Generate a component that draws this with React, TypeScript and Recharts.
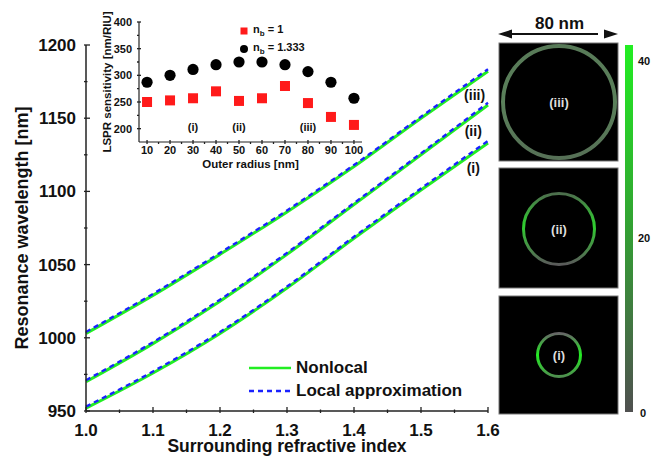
import React from "react";
import {
  LineChart,
  Line,
  XAxis,
  YAxis,
  ScatterChart,
  Scatter,
  ReferenceDot,
} from "recharts";

const FONT = '"Liberation Sans", Arial, Helvetica, sans-serif';
const AXIS = "#222";
const GREEN = "#22ee22";
const BLUE = "#1a22ff";

// main plot: resonance wavelength vs surrounding index
const refractiveIndex = [1.0, 1.1, 1.2, 1.3, 1.4, 1.5, 1.6];
const nonlocalI = [952, 976, 1003, 1034, 1068, 1101, 1133];
const localI = [953, 977, 1004, 1035, 1069, 1102, 1134.5];
const nonlocalII = [970, 996, 1025, 1057, 1091, 1125, 1159];
const localII = [971, 997, 1026, 1058, 1092, 1126, 1160.5];
const nonlocalIII = [1003, 1029, 1057, 1086, 1117, 1150, 1182];
const localIII = [1004, 1030, 1058, 1087, 1118, 1151, 1183.5];

const xMajor = [1.0, 1.1, 1.2, 1.3, 1.4, 1.5, 1.6];
const xMinor = [1.05, 1.15, 1.25, 1.35, 1.45, 1.55];
const yMajor = [950, 1000, 1050, 1100, 1150, 1200];
const yMinor = [975, 1025, 1075, 1125, 1175];

// inset: sensitivity vs outer radius
const outerRadius = [10, 20, 30, 40, 50, 60, 70, 80, 90, 100];
const sensitivityNb1 = [250, 253, 257, 270, 252, 257, 280, 248, 222, 207];
const sensitivityNb1333 = [287, 300, 311, 320, 325, 325, 320, 307, 287, 257];
const rMajor = [10, 20, 30, 40, 50, 60, 70, 80, 90, 100];
const rMinor = [15, 25, 35, 45, 55, 65, 75, 85, 95];
const sMajor = [200, 250, 300, 350, 400];
const sMinor = [225, 275, 325, 375];

const near = (list: number[], v: number) => list.some((m) => Math.abs(m - v) < 1e-6);

const makeBottomTick =
  (major: number[], len: number, minorLen: number, size: number, dy: number, fmt: (v: number) => string) =>
  (props: any) => {
    const { x, y, payload } = props;
    const major_ = near(major, payload.value);
    return (
      <g>
        <line x1={x} x2={x} y1={y} y2={y - (major_ ? len : minorLen)} stroke={AXIS} strokeWidth={1.3} />
        {major_ && (
          <text x={x} y={y + dy} textAnchor="middle" fontSize={size} fontWeight={700} fontFamily={FONT} fill="#111">
            {fmt(payload.value)}
          </text>
        )}
      </g>
    );
  };

const makeLeftTick =
  (major: number[], len: number, minorLen: number, size: number, gap: number, dy: number) =>
  (props: any) => {
    const { x, y, payload } = props;
    const major_ = near(major, payload.value);
    return (
      <g>
        <line x1={x} x2={x + (major_ ? len : minorLen)} y1={y} y2={y} stroke={AXIS} strokeWidth={1.3} />
        {major_ && (
          <text x={x - gap} y={y + dy} textAnchor="end" fontSize={size} fontWeight={700} fontFamily={FONT} fill="#111">
            {payload.value}
          </text>
        )}
      </g>
    );
  };

const MainXTick = makeBottomTick(xMajor, 6, 3.5, 17, 23, (v) => v.toFixed(1));
const MainYTick = makeLeftTick(yMajor, 6, 3.5, 17, 8, 6);
const InsetXTick = makeBottomTick(rMajor, 4, 2, 11, 10, (v) => String(v));
const InsetYTick = makeLeftTick(sMajor, 4, 2, 11, 5, 4);

const Square = (props: any) => (
  <rect x={props.cx - 5} y={props.cy - 5} width={10} height={10} fill="#ff1a1a" />
);
const Dot = (props: any) => <circle cx={props.cx} cy={props.cy} r={5.6} fill="#000" />;

const labelText = { fill: "#111", fontWeight: 700, fontFamily: FONT };

function MainLegend() {
  const row = (top: number, dashed: boolean, color: string, text: string) => (
    <div style={{ position: "absolute", left: 0, top, height: 20, display: "flex", alignItems: "center" }}>
      <svg width={44} height={6}>
        <line x1={0} x2={42} y1={3} y2={3} stroke={color} strokeWidth={2.5} strokeDasharray={dashed ? "5 4" : undefined} />
      </svg>
      <span style={{ marginLeft: 3, fontSize: 17, fontWeight: 700, fontFamily: FONT, color: "#111", whiteSpace: "nowrap" }}>{text}</span>
    </div>
  );
  return (
    <div style={{ position: "absolute", left: 249, top: 358, width: 220, height: 50 }}>
      {row(0, false, GREEN, "Nonlocal")}
      {row(23, true, BLUE, "Local approximation")}
    </div>
  );
}

function InsetLegend() {
  const txt = (n: string) => (
    <span style={{ fontSize: 11, fontWeight: 700, fontFamily: FONT, color: "#111", whiteSpace: "nowrap" }}>
      n<sub style={{ fontSize: 8 }}>b</sub> = {n}
    </span>
  );
  return (
    <div style={{ position: "absolute", left: 146, top: 24, width: 120, height: 36 }}>
      <div style={{ position: "absolute", left: 0, top: 0, height: 14, display: "flex", alignItems: "center" }}>
        <svg width={14} height={10}><rect x={1.5} y={1.5} width={7} height={7} fill="#ff1a1a" /></svg>
        {txt("1")}
      </div>
      <div style={{ position: "absolute", left: 0, top: 18, height: 14, display: "flex", alignItems: "center" }}>
        <svg width={14} height={10}><circle cx={5} cy={5} r={4} fill="#000" /></svg>
        {txt("1.333")}
      </div>
    </div>
  );
}

function ImagePanel() {
  const sq = [
    { y: 43, h: 118, cy: 102, r: 56, w: 4, grad: "g3", label: "(iii)" },
    { y: 168, h: 120, cy: 229, r: 35.5, w: 3, grad: "g2", label: "(ii)" },
    { y: 296, h: 118, cy: 355, r: 21.5, w: 3, grad: "g1", label: "(i)" },
  ];
  return (
    <svg width={169} height={456} style={{ position: "absolute", left: 490, top: 0 }}>
      <defs>
        <linearGradient id="g3" x1="0" y1="0" x2="0" y2="1">
          <stop offset="0" stopColor="#587a58" />
          <stop offset="0.5" stopColor="#5a805a" />
          <stop offset="1" stopColor="#567056" />
        </linearGradient>
        <linearGradient id="g2" x1="0" y1="0" x2="0" y2="1">
          <stop offset="0" stopColor="#4d6e4d" />
          <stop offset="0.45" stopColor="#2fcf2f" />
          <stop offset="1" stopColor="#5a5a5a" />
        </linearGradient>
        <linearGradient id="g1" x1="0" y1="0" x2="0" y2="1">
          <stop offset="0" stopColor="#666" />
          <stop offset="0.5" stopColor="#22ee22" />
          <stop offset="1" stopColor="#4f8f4f" />
        </linearGradient>
        <linearGradient id="cbar" x1="0" y1="0" x2="0" y2="1">
          <stop offset="0" stopColor="#22ee22" />
          <stop offset="0.5" stopColor="#33a033" />
          <stop offset="1" stopColor="#505050" />
        </linearGradient>
      </defs>
      <text x={69.5} y={29} textAnchor="middle" fontSize={17} fontWeight={700} fontFamily={FONT} fill="#111">80 nm</text>
      <line x1={20} x2={108} y1={34} y2={34} stroke="#111" strokeWidth={2} />
      <polygon points="8,34 22,29.5 22,38.5" fill="#111" />
      <polygon points="128,34 114,29.5 114,38.5" fill="#111" />
      {sq.map((s) => (
        <g key={s.label}>
          <rect x={9} y={s.y} width={119} height={s.h} fill="#000" stroke="#777" strokeWidth={1} />
          <circle cx={69} cy={s.cy} r={s.r} fill="none" stroke={`url(#${s.grad})`} strokeWidth={s.w} />
          <text x={69} y={s.cy + 4.5} textAnchor="middle" fontSize={13} fontWeight={700} fontFamily={FONT} fill="#ddd">{s.label}</text>
        </g>
      ))}
      <rect x={135} y={45} width={8} height={367} fill="url(#cbar)" />
      <text x={148} y={65} fontSize={11} fontWeight={700} fontFamily={FONT} fill="#111">40</text>
      <text x={148} y={242} fontSize={11} fontWeight={700} fontFamily={FONT} fill="#111">20</text>
      <text x={150} y={417} fontSize={11} fontWeight={700} fontFamily={FONT} fill="#111">0</text>
    </svg>
  );
}

export default function App() {
  const rows = refractiveIndex.map((n, i) => ({
    n,
    nonlocal1: nonlocalI[i],
    local1: localI[i],
    nonlocal2: nonlocalII[i],
    local2: localII[i],
    nonlocal3: nonlocalIII[i],
    local3: localIII[i],
  }));
  const nb1 = outerRadius.map((r, i) => ({ r, s: sensitivityNb1[i] }));
  const nb1333 = outerRadius.map((r, i) => ({ r, s: sensitivityNb1333[i] }));
  const axisLine = { stroke: AXIS, strokeWidth: 1.5 };

  return (
    <div style={{ position: "relative", width: 659, height: 456, background: "#fff", fontFamily: FONT }}>
      <style>{"body{margin:0}"}</style>
      <LineChart width={659} height={456} data={rows} margin={{ top: 45, right: 171, bottom: 0, left: 0 }}>
        <XAxis
          dataKey="n"
          type="number"
          domain={[1, 1.6]}
          ticks={[...xMajor, ...xMinor]}
          interval={0}
          height={45}
          tickSize={0}
          tickLine={false}
          tick={MainXTick}
          axisLine={axisLine}
          label={{ value: "Surrounding refractive index", position: "insideBottom", offset: 4, fontSize: 17.5, ...labelText }}
        />
        <XAxis xAxisId="top" orientation="top" dataKey="n" type="number" domain={[1, 1.6]} height={0} tick={false} tickLine={false} axisLine={axisLine} />
        <YAxis
          type="number"
          domain={[950, 1200]}
          ticks={[...yMajor, ...yMinor]}
          interval={0}
          width={86}
          tickSize={0}
          tickLine={false}
          tick={MainYTick}
          axisLine={axisLine}
          label={{ value: "Resonance wavelength [nm]", angle: -90, position: "insideLeft", offset: 22, fontSize: 18, style: { textAnchor: "middle" }, ...labelText }}
        />
        <YAxis yAxisId="right" orientation="right" type="number" domain={[950, 1200]} width={0} tick={false} tickLine={false} axisLine={axisLine} />
        <Line dataKey="nonlocal1" type="monotone" stroke={GREEN} strokeWidth={3} dot={false} isAnimationActive={false} />
        <Line dataKey="nonlocal2" type="monotone" stroke={GREEN} strokeWidth={3} dot={false} isAnimationActive={false} />
        <Line dataKey="nonlocal3" type="monotone" stroke={GREEN} strokeWidth={3} dot={false} isAnimationActive={false} />
        <Line dataKey="local1" type="monotone" stroke={BLUE} strokeWidth={2.4} strokeDasharray="5 4" dot={false} isAnimationActive={false} />
        <Line dataKey="local2" type="monotone" stroke={BLUE} strokeWidth={2.4} strokeDasharray="5 4" dot={false} isAnimationActive={false} />
        <Line dataKey="local3" type="monotone" stroke={BLUE} strokeWidth={2.4} strokeDasharray="5 4" dot={false} isAnimationActive={false} />
        <ReferenceDot x={1.58} y={1166} r={0} fill="none" stroke="none" label={{ value: "(iii)", position: "center", fontSize: 14, ...labelText }} />
        <ReferenceDot x={1.578} y={1141} r={0} fill="none" stroke="none" label={{ value: "(ii)", position: "center", fontSize: 14, ...labelText }} />
        <ReferenceDot x={1.578} y={1116} r={0} fill="none" stroke="none" label={{ value: "(i)", position: "center", fontSize: 14, ...labelText }} />
      </LineChart>
      <MainLegend />

      <div style={{ position: "absolute", left: 93, top: 0, width: 279, height: 172 }}>
        {/* white patch behind the inset, shaped so the top curve stays visible at its lower right */}
        <div style={{ position: "absolute", left: 0, top: 0, width: 279, height: 152, background: "#fff" }} />
        <div style={{ position: "absolute", left: 0, top: 152, width: 215, height: 20, background: "#fff" }} />
        <ScatterChart width={279} height={172} margin={{ top: 22, right: 10, bottom: 0, left: 0 }} style={{ position: "absolute", left: 0, top: 0 }}>
          <XAxis
            dataKey="r"
            type="number"
            domain={[6.5, 103.5]}
            ticks={[...rMajor, ...rMinor]}
            interval={0}
            height={30}
            tickSize={0}
            tickLine={false}
            tick={InsetXTick}
            axisLine={{ stroke: AXIS, strokeWidth: 1.2 }}
            label={{ value: "Outer radius [nm]", position: "insideBottom", offset: 4, fontSize: 11.5, ...labelText }}
          />
          <XAxis xAxisId="top" orientation="top" dataKey="r" type="number" domain={[6.5, 103.5]} height={0} tick={false} tickLine={false} axisLine={{ stroke: AXIS, strokeWidth: 1.2 }} />
          <YAxis
            dataKey="s"
            type="number"
            domain={[175, 400]}
            ticks={[...sMajor, ...sMinor]}
            interval={0}
            width={46}
            tickSize={0}
            tickLine={false}
            tick={InsetYTick}
            axisLine={{ stroke: AXIS, strokeWidth: 1.2 }}
            label={{ value: "LSPR sensitivity [nm/RIU]", angle: -90, position: "insideLeft", offset: 14, fontSize: 11.5, style: { textAnchor: "middle" }, ...labelText }}
          />
          <YAxis yAxisId="right" orientation="right" dataKey="s" type="number" domain={[175, 400]} width={0} tick={false} tickLine={false} axisLine={{ stroke: AXIS, strokeWidth: 1.2 }} />
          <Scatter name="nb1" data={nb1} shape={Square} isAnimationActive={false} />
          <Scatter name="nb1333" data={nb1333} shape={Dot} isAnimationActive={false} />
          <ReferenceDot x={30} y={203} r={0} fill="none" stroke="none" label={{ value: "(i)", position: "center", fontSize: 11, ...labelText }} />
          <ReferenceDot x={50} y={203} r={0} fill="none" stroke="none" label={{ value: "(ii)", position: "center", fontSize: 11, ...labelText }} />
          <ReferenceDot x={80} y={203} r={0} fill="none" stroke="none" label={{ value: "(iii)", position: "center", fontSize: 11, ...labelText }} />
        </ScatterChart>
        <InsetLegend />
      </div>

      <ImagePanel />
    </div>
  );
}
